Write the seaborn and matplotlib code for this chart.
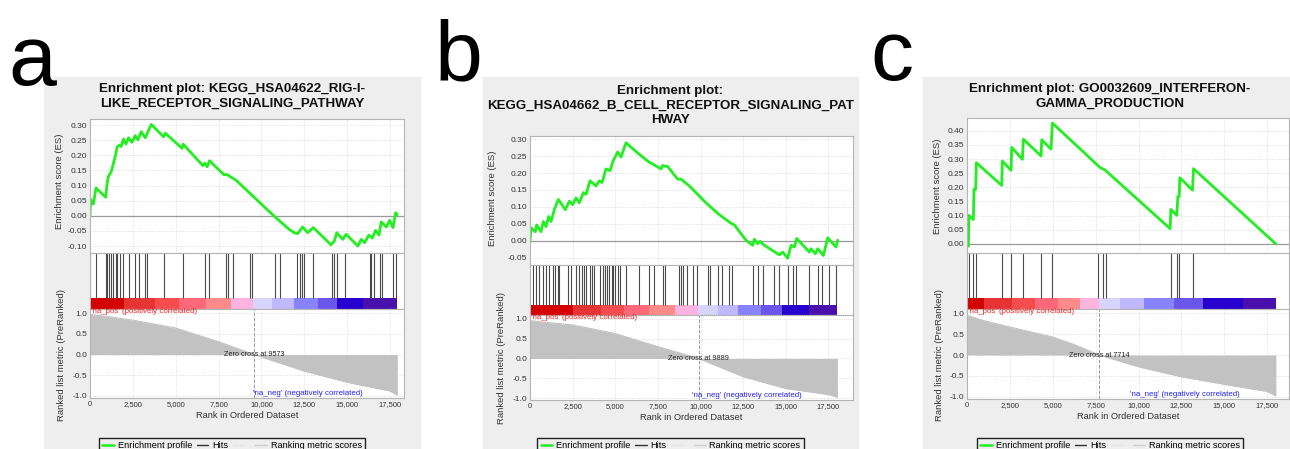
import numpy as np
import matplotlib
matplotlib.use("Agg")
import matplotlib.pyplot as plt
import seaborn as sns
from matplotlib.lines import Line2D
from matplotlib.patches import Rectangle

# ---------------- data ----------------
panel_letters = ["a", "b", "c"]
titles = [
    "Enrichment plot: KEGG_HSA04622_RIG-I-\nLIKE_RECEPTOR_SIGNALING_PATHWAY",
    "Enrichment plot:\nKEGG_HSA04662_B_CELL_RECEPTOR_SIGNALING_PAT\nHWAY",
    "Enrichment plot: GO0032609_INTERFERON-\nGAMMA_PRODUCTION",
]
zero_cross = [9573, 9889, 7714]
x_ticks = [0, 2500, 5000, 7500, 10000, 12500, 15000, 17500]
metric_ticks = [1.0, 0.5, 0.0, -0.5, -1.0]
es_ticks_a = [0.30, 0.25, 0.20, 0.15, 0.10, 0.05, 0.00, -0.05, -0.10]
es_ticks_b = [0.30, 0.25, 0.20, 0.15, 0.10, 0.05, 0.00, -0.05]
es_ticks_c = [0.40, 0.35, 0.30, 0.25, 0.20, 0.15, 0.10, 0.05, 0.00]

# running enrichment score (rank, ES)
es_rank_a = [0, 39, 195, 352, 918, 996, 1074, 1230, 1348, 1504, 1582, 1738, 1816, 1953,
             2090, 2246, 2441, 2637, 2793, 2988, 3222, 3574, 4297, 4394, 5371, 5429, 6582,
             6699, 6836, 6972, 7812, 8007, 8300, 8496, 10644, 11621, 11914, 12109, 12402,
             12695, 13027, 14062, 14257, 14394, 14746, 14941, 15625, 15820, 16015, 16269,
             16464, 16660, 16855, 16992, 17285, 17480, 17675, 17831, 17925]
es_val_a = [0.0, 0.054, 0.039, 0.092, 0.061, 0.108, 0.130, 0.145, 0.169, 0.204, 0.228, 0.234,
            0.229, 0.254, 0.237, 0.258, 0.243, 0.265, 0.251, 0.278, 0.258, 0.302, 0.261, 0.273,
            0.223, 0.237, 0.166, 0.174, 0.162, 0.182, 0.136, 0.136, 0.125, 0.119, 0.004,
            -0.045, -0.056, -0.059, -0.037, -0.056, -0.039, -0.096, -0.083, -0.056, -0.078,
            -0.061, -0.100, -0.078, -0.089, -0.064, -0.074, -0.048, -0.064, -0.020, -0.037,
            -0.015, -0.039, 0.010, 0.004]

es_rank_b = [0, 59, 313, 391, 645, 782, 938, 1095, 1232, 1427, 1662, 2072, 2307, 2502, 2698,
             2893, 3128, 3284, 3519, 3871, 4066, 4223, 4457, 4692, 4887, 5142, 5337, 5630,
             6315, 6901, 7683, 7781, 8074, 8661, 8856, 9345, 10322, 11104, 11789, 11984,
             12668, 13059, 13157, 13352, 13490, 13685, 14428, 14623, 14819, 15112, 15308,
             15503, 15640, 16383, 16481, 16735, 16872, 17204, 17458, 17947, 18045]
es_val_b = [-0.003, 0.039, 0.027, 0.047, 0.027, 0.057, 0.042, 0.072, 0.057, 0.092, 0.122,
            0.092, 0.117, 0.107, 0.127, 0.112, 0.142, 0.137, 0.177, 0.162, 0.177, 0.172,
            0.212, 0.207, 0.237, 0.262, 0.247, 0.289, 0.259, 0.235, 0.212, 0.222, 0.219,
            0.182, 0.182, 0.162, 0.112, 0.077, 0.052, 0.047, 0.002, -0.013, 0.005, -0.008,
            -0.001, -0.011, -0.035, -0.041, -0.033, -0.051, -0.013, -0.018, 0.007, -0.033,
            -0.023, -0.038, -0.023, -0.043, 0.009, -0.018, 0.002]

es_rank_c = [0, 39, 78, 117, 369, 408, 505, 544, 2022, 2061, 2566, 2605, 3227, 3285, 4316,
             4355, 4899, 4938, 4977, 7757, 8048, 11839, 11878, 12228, 12286, 12364, 12403,
             13141, 13200, 18001]
es_val_c = [0.0, -0.002, -0.008, 0.101, 0.086, 0.193, 0.193, 0.287, 0.207, 0.293, 0.260,
            0.341, 0.299, 0.370, 0.311, 0.368, 0.335, 0.385, 0.427, 0.270, 0.261, 0.054,
            0.122, 0.101, 0.167, 0.167, 0.234, 0.190, 0.266, 0.0]

# positions of gene-set members in the ranked list
hits_a = [0, 332, 938, 1016, 1113, 1230, 1328, 1504, 1562, 1758, 1953, 2246, 2637, 2832,
          3183, 3320, 4336, 5410, 6699, 6933, 7910, 8066, 8359, 9336, 9434, 10800, 11093,
          12050, 12265, 12363, 12500, 12988, 14121, 14258, 14394, 14902, 16308, 16406,
          16543, 16894, 17050, 17675, 17832]
hits_b = [196, 352, 548, 782, 938, 1134, 1329, 1486, 1623, 1720, 2209, 2404, 2698, 2893,
          3050, 3186, 3284, 3519, 3636, 3773, 4105, 4262, 4399, 4516, 4653, 4809, 4887,
          5005, 5142, 5279, 5630, 6413, 6999, 7292, 7781, 7938, 8720, 8857, 8955, 9189,
          9541, 9776, 10422, 10559, 11007, 11261, 11652, 11848, 13059, 13352, 13645, 14330,
          14623, 15112, 15405, 15601, 16383, 16872, 17126, 17517, 17947]
hits_c = [117, 369, 505, 2022, 2566, 3246, 4296, 4938, 7620, 7951, 8087, 11878, 12228,
          12364, 13161]

# ranked list metric (rank, value)
metric_rank_a = [0, 1000, 2500, 5000, 7500, 9573, 12500, 15000, 17500, 17925]
metric_val_a = [0.97, 0.92, 0.83, 0.64, 0.31, 0.0, -0.40, -0.67, -0.88, -0.98]
metric_rank_b = [0, 1000, 2500, 5000, 7500, 9889, 12500, 15000, 17500, 18025]
metric_val_b = [0.96, 0.91, 0.85, 0.63, 0.30, 0.0, -0.46, -0.76, -0.91, -0.98]
metric_rank_c = [0, 1000, 2500, 5000, 6250, 7714, 10000, 12500, 15000, 17500, 18000]
metric_val_c = [0.95, 0.82, 0.67, 0.43, 0.25, 0.0, -0.28, -0.52, -0.70, -0.87, -0.98]

# heat bar segment edges (rank)
bar_edges_a = [0, 2012, 3808, 5175, 6738, 8242, 9531, 10644, 11914, 13281, 14394, 15918, 17925]
bar_edges_b = [0, 2502, 4164, 5533, 6999, 8524, 9834, 11007, 12180, 13548, 14780, 16344, 18025]
bar_edges_c = [0, 1011, 2605, 3966, 5327, 6590, 7698, 8923, 10342, 12092, 13725, 16058, 18000]
bar_colors = ["#d40000", "#e63434", "#f54d4d", "#ff6878", "#ff8a8a", "#ffb3e0",
              "#d6d4ff", "#c0b9ff", "#8783ff", "#6b56ec", "#2700cf", "#4a10ad"]

# ---------------- style / layout ----------------
sns.set_style("white")
plt.rcParams["font.family"] = ["Liberation Sans", "DejaVu Sans"]
plt.rcParams["text.color"] = "black"

W, H = 1290, 449
fig = plt.figure(figsize=(12.9, 4.49), dpi=100)


def box(l, t, r, b):
    return [l / W, 1 - b / H, (r - l) / W, (b - t) / H]


layout = [
    dict(grey=(44, 77, 420, 449), left=90, right=404, es_top=119, hits_top=253, bar_top=298,
         met_top=309, met_bot=398, title_y=96.5, xmax=18317, es_ylim=(-0.123, 0.32),
         letter=(8, 85), es_lab=(60, 181), met_lab=(62, 355)),
    dict(grey=(483, 77, 858, 449), left=530, right=853, es_top=136, hits_top=265, bar_top=305,
         met_top=315, met_bot=400, title_y=105.5, xmax=18940, es_ylim=(-0.071, 0.309),
         letter=(434, 80), es_lab=(492, 198), met_lab=(502, 358)),
    dict(grey=(923, 77, 1300, 449), left=967, right=1289, es_top=118, hits_top=253, bar_top=298,
         met_top=309, met_bot=399, title_y=96.5, xmax=18765, es_ylim=(-0.032, 0.445),
         letter=(870, 80), es_lab=(937, 186), met_lab=(940, 355)),
]

es_ranks = [es_rank_a, es_rank_b, es_rank_c]
es_vals = [es_val_a, es_val_b, es_val_c]
es_ticks = [es_ticks_a, es_ticks_b, es_ticks_c]
hits = [hits_a, hits_b, hits_c]
metric_ranks = [metric_rank_a, metric_rank_b, metric_rank_c]
metric_vals = [metric_val_a, metric_val_b, metric_val_c]
bar_edges = [bar_edges_a, bar_edges_b, bar_edges_c]

green = "#22ee22"
spine_col = "#b4b4b4"
grid_kw = dict(ls=":", color="#d4d4d4", lw=0.6)


def style_axes(ax):
    for s in ax.spines.values():
        s.set_color(spine_col)
        s.set_linewidth(0.8)
    ax.tick_params(length=0, pad=2, colors="#333333")


for i, L in enumerate(layout):
    gl, gt, gr, gb = L["grey"]
    fig.add_artist(Rectangle((gl / W, 1 - gb / H), (gr - gl) / W, (gb - gt) / H,
                             transform=fig.transFigure, color="#eeeeee", zorder=-5))
    gcx = (gl + min(gr, W)) / 2 if i < 2 else 1110

    fig.text(L["letter"][0] / W, 1 - L["letter"][1] / H, panel_letters[i], fontsize=62,
             va="baseline", ha="left", color="black")
    fig.text(gcx / W, 1 - L["title_y"] / H, titles[i], fontsize=9.6, fontweight="bold",
             ha="center", va="center", linespacing=1.3, color="#111111")

    # enrichment score
    ax_es = fig.add_axes(box(L["left"], L["es_top"], L["right"], L["hits_top"]))
    sns.lineplot(x=es_ranks[i], y=es_vals[i], ax=ax_es, color=green, lw=2.0,
                 sort=False, estimator=None)
    ax_es.axhline(0, color="#9a9a9a", lw=0.9, zorder=1)
    ax_es.set_xlim(0, L["xmax"])
    ax_es.set_ylim(*L["es_ylim"])
    ax_es.set_xticks(x_ticks)
    ax_es.set_xticklabels([])
    ax_es.set_yticks(es_ticks[i])
    ax_es.set_yticklabels([f"{v:.2f}" for v in es_ticks[i]], fontsize=6)
    ax_es.grid(True, **grid_kw)
    style_axes(ax_es)
    fig.text(L["es_lab"][0] / W, 1 - L["es_lab"][1] / H, "Enrichment score (ES)",
             rotation=90, fontsize=6.8, ha="center", va="center", color="#333333")

    # hits + heat bar
    ax_h = fig.add_axes(box(L["left"], L["hits_top"], L["right"], L["met_top"]))
    bar_frac = (L["met_top"] - L["bar_top"]) / (L["met_top"] - L["hits_top"])
    ax_h.vlines(hits[i], bar_frac, 1, color="#4a4a4a", lw=0.8)
    edges = bar_edges[i]
    ax_h.bar(edges[:-1], bar_frac, width=np.diff(edges), align="edge",
             color=bar_colors, lw=0)
    ax_h.set_xlim(0, L["xmax"])
    ax_h.set_ylim(0, 1)
    ax_h.set_xticks([])
    ax_h.set_yticks([])
    style_axes(ax_h)

    # ranked list metric
    ax_m = fig.add_axes(box(L["left"], L["met_top"], L["right"], L["met_bot"]))
    ax_m.fill_between(metric_ranks[i], 0, metric_vals[i], color="#c2c2c2", lw=0)
    sns.lineplot(x=metric_ranks[i], y=metric_vals[i], ax=ax_m, color="#c2c2c2", lw=0.8,
                 sort=False, estimator=None)
    ax_m.axvline(zero_cross[i], color="#9a9a9a", ls="--", lw=0.7)
    ax_m.text(zero_cross[i], 0, f"Zero cross at {zero_cross[i]}", fontsize=5.2,
              ha="center", va="center", color="#222222")
    ax_m.text(80, 1.04, "'na_pos' (positively correlated)", fontsize=5.7,
              ha="left", va="center", color="#ee2222")
    ax_m.text(12700, -0.935, "'na_neg' (negatively correlated)", fontsize=5.7,
              ha="center", va="center", color="#2222ee")
    ax_m.set_xlim(0, L["xmax"])
    ax_m.set_ylim(-1.05, 1.1)
    ax_m.set_xticks(x_ticks)
    ax_m.set_xticklabels([f"{t:,}" for t in x_ticks], fontsize=5.5)
    ax_m.set_yticks(metric_ticks)
    ax_m.set_yticklabels([f"{v:.1f}" for v in metric_ticks], fontsize=6)
    ax_m.grid(True, **grid_kw)
    ax_m.set_xlabel("Rank in Ordered Dataset", fontsize=6.7, labelpad=2, color="#333333")
    style_axes(ax_m)
    fig.text(L["met_lab"][0] / W, 1 - L["met_lab"][1] / H, "Ranked list metric (PreRanked)",
             rotation=90, fontsize=6.8, ha="center", va="center", color="#333333")

    # legend
    handles = [Line2D([], [], color=green, lw=1.8),
               Line2D([], [], color="#333333", lw=1.0),
               Line2D([], [], color="#e4e4e4", lw=1.0),
               Line2D([], [], color="#cfcfcf", lw=1.0)]
    labels = ["Enrichment profile", "Hits", " ", "Ranking metric scores"]
    fig.legend(handles, labels, loc="upper center", bbox_to_anchor=(gcx / W, 1 - 433 / H),
               ncol=4, fontsize=6.6, frameon=True, fancybox=False, edgecolor="#222222",
               facecolor="#eeeeee", framealpha=1, handlelength=1.3, handletextpad=0.4,
               columnspacing=0.5, borderpad=0.35)

fig.savefig("out.png", dpi=100)
